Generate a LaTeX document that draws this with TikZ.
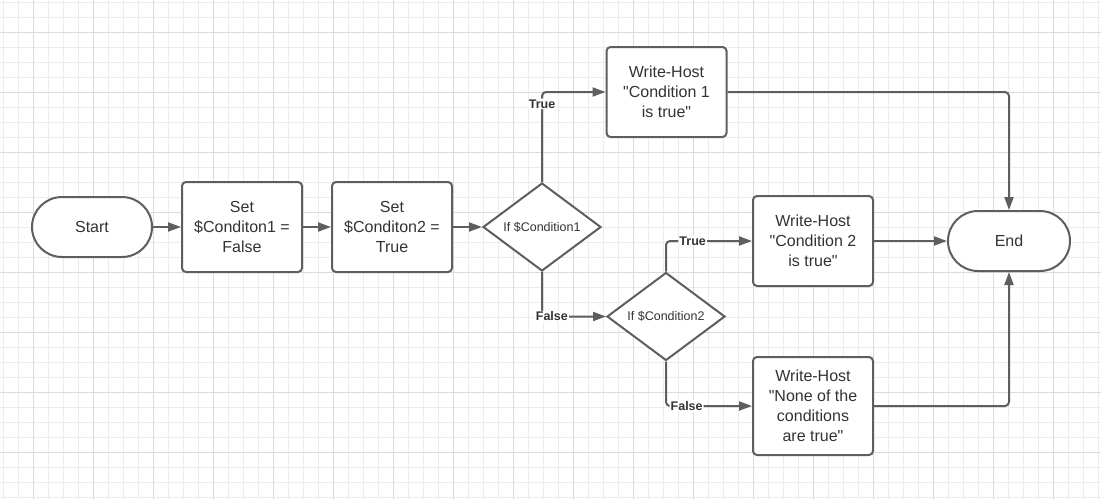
\documentclass[tikz,border=0pt]{standalone}
\usepackage{fontspec}
\setmainfont{Liberation Sans}[Ligatures=TeXOff]
\usetikzlibrary{arrows.meta,shapes.geometric}
\definecolor{gridthin}{HTML}{ECECEC}
\definecolor{gridthick}{HTML}{DADADA}
\definecolor{lineclr}{HTML}{5E5E5E}
\definecolor{txtclr}{HTML}{333333}
\tikzset{
  box/.style={draw=lineclr, line width=2pt, rounded corners=4pt, fill=white,
    minimum width=120pt, minimum height=90pt, inner sep=0pt, align=center,
    text=txtclr, font=\fontsize{16}{20}\selectfont},
  term/.style={draw=lineclr, line width=2pt, rounded corners=30pt, fill=white,
    minimum width=120pt, minimum height=60pt, inner sep=0pt, align=center,
    text=txtclr, font=\fontsize{16}{20}\selectfont},
  dec/.style={draw=lineclr, line width=2pt, diamond, aspect=1.34, fill=white,
    minimum width=118pt, minimum height=88pt, inner sep=0pt,
    text=txtclr, font=\fontsize{12.5}{14}\selectfont},
  arr/.style={draw=lineclr, line width=2pt, -{Triangle[length=13pt,width=9pt]}},
  lbl/.style={fill=white, inner sep=1pt, text=txtclr, font=\fontsize{12.5}{14}\selectfont\bfseries},
}
\begin{document}
\begin{tikzpicture}[x=1pt,y=-1pt]
\useasboundingbox (0,0) rectangle (1101,499);
\fill[white] (0,0) rectangle (1101,499);
% grid
\foreach \gx in {3,18,...,1101} \draw[gridthin, line width=1pt] (\gx,0) -- (\gx,499);
\foreach \gy in {2,17,...,499} \draw[gridthin, line width=1pt] (0,\gy) -- (1101,\gy);
\foreach \gx in {33,93,...,1101} \draw[gridthick, line width=1pt] (\gx,0) -- (\gx,499);
\foreach \gy in {32,92,...,499} \draw[gridthick, line width=1pt] (0,\gy) -- (1101,\gy);
% nodes
\node[term] (start) at (92,227) {Start};
\node[box] (set1) at (242,227) {Set\\\$Conditon1 =\\False};
\node[box] (set2) at (392,227) {Set\\\$Conditon2 =\\True};
\node[dec] (d1) at (542,227) {If \$Condition1};
\node[box] (wh1) at (666.5,92) {Write-Host\\"Condition 1\\is true"};
\node[dec] (d2) at (666,316.5) {If \$Condition2};
\node[box] (wh2) at (813,241) {Write-Host\\"Condition 2\\is true"};
\node[box, minimum height=98pt] (wh3) at (813,406) {Write-Host\\"None of the\\conditions\\are true"};
\node[term, minimum width=122pt] (end) at (1009,241) {End};
% connectors
\draw[arr] (start) -- (set1);
\draw[arr] (set1) -- (set2);
\draw[arr] (set2) -- (d1);
\draw[arr, rounded corners=4pt] (d1.north) |- node[lbl, pos=0.434] (t1) {True} (wh1.west);
\draw[arr, rounded corners=4pt] (d1.south) |- node[lbl, pos=0.577] (f1) {False} (d2.west);
\draw[arr, rounded corners=4pt] (d2.north) |- node[lbl, pos=0.655] (t2) {True} (wh2.west);
\draw[arr, rounded corners=4pt] (d2.south) |- node[lbl, pos=0.62] (f2) {False} (wh3.west);
\draw[arr, rounded corners=4pt] (wh1.east) -| (end.north);
\draw[arr] (wh2) -- (end);
\draw[arr, rounded corners=4pt] (wh3.east) -| (end.south);
\end{tikzpicture}
\end{document}
